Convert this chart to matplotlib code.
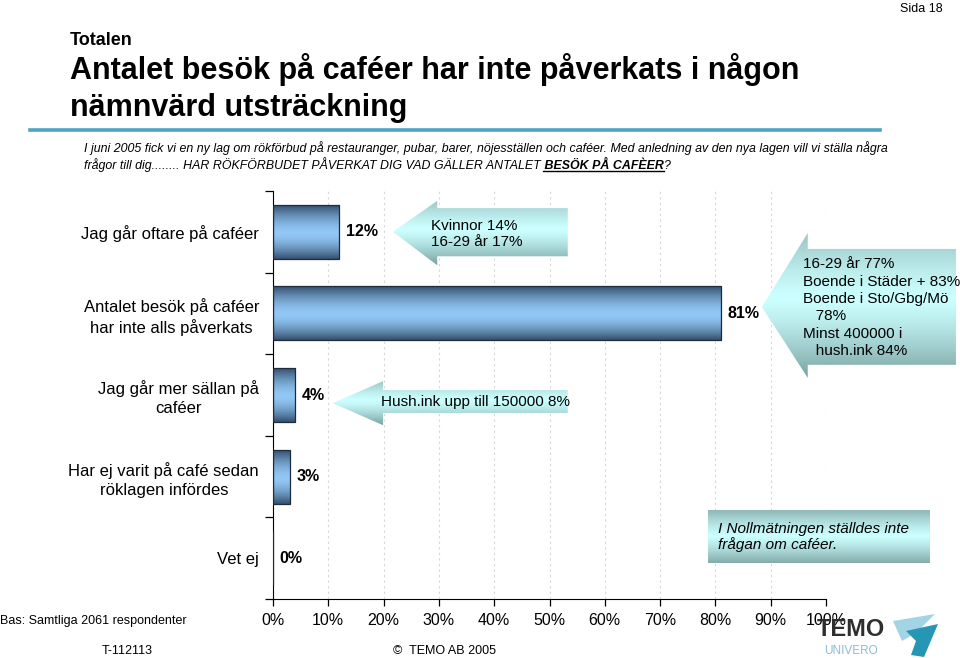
import numpy as np
import matplotlib
matplotlib.use('Agg')
import matplotlib.pyplot as plt
from matplotlib.patches import Polygon
from matplotlib.colors import to_rgb

# data
categories = ['Jag går oftare på caféer',
              'Antalet besök på caféer\nhar inte alls påverkats',
              'Jag går mer sällan på\ncaféer',
              'Har ej varit på café sedan\nröklagen infördes',
              'Vet ej']
values = [12, 81, 4, 3, 0]
xticks = [0, 10, 20, 30, 40, 50, 60, 70, 80, 90, 100]

note_oftare = 'Kvinnor 14%\n16-29 år 17%'
note_alls = ('16-29 år 77%\nBoende i Städer + 83%\nBoende i Sto/Gbg/Mö\n'
             '   78%\nMinst 400000 i\n   hush.ink 84%')
note_sallan = 'Hush.ink upp till 150000 8%'
note_box = 'I Nollmätningen ställdes inte\nfrågan om caféer.'

plt.rcParams['font.family'] = ['Liberation Sans', 'DejaVu Sans']

W, H = 960, 658
fig = plt.figure(figsize=(W / 100, H / 100), dpi=100)
fig.patch.set_facecolor('white')


def vgrad(top, mid, bottom, peak=0.5, power=1.0, n=80):
    t = np.linspace(0, 1, n)
    top, mid, bottom = np.array(to_rgb(top)), np.array(to_rgb(mid)), np.array(to_rgb(bottom))
    out = np.zeros((n, 1, 3))
    for i, v in enumerate(t):
        if v < peak:
            s = ((peak - v) / peak) ** power
            out[i, 0] = mid + (top - mid) * s
        else:
            s = ((v - peak) / (1 - peak)) ** power
            out[i, 0] = mid + (bottom - mid) * s
    return out


# main chart
ax = fig.add_axes([273 / W, (H - 599) / H, 553 / W, 408 / H])
bars = ax.barh(range(len(values)), values, height=0.66, facecolor='none',
               edgecolor='#1e2b3b', linewidth=0.9, zorder=3)
bar_grad = vgrad('#35506f', '#92c8f6', '#35506f', peak=0.52, power=1.6)
for b in bars:
    if b.get_width() <= 0:
        continue
    x, y, w, h = b.get_x(), b.get_y(), b.get_width(), b.get_height()
    im = ax.imshow(bar_grad, extent=(x, x + w, y + h, y), aspect='auto',
                   interpolation='bilinear', zorder=2)
    im.set_clip_path(b)

for i, v in enumerate(values):
    ax.text(v + 1.2, i, f'{v}%', va='center', ha='left', fontsize=11.5,
            fontweight='bold', zorder=5)

ax.set_xlim(0, 100)
ax.set_ylim(len(values) - 0.5, -0.5)
ax.set_xticks(xticks)
ax.set_xticklabels([f'{v}%' for v in xticks], fontsize=11.5)
ax.set_yticks(range(len(categories)))
ax.set_yticklabels(categories, fontsize=12)
for t in ax.get_yticklabels():
    t.set_multialignment('center')
    t.set_linespacing(1.3)
ax.set_yticks(np.arange(-0.5, len(categories), 1), minor=True)
ax.tick_params(axis='y', which='major', length=0, pad=10)
ax.tick_params(axis='y', which='minor', length=6, direction='out', width=0.9)
ax.tick_params(axis='x', length=5, direction='out', width=0.9, pad=5)
ax.spines['top'].set_visible(False)
ax.spines['right'].set_visible(False)
ax.xaxis.grid(True, linestyle=(0, (2, 3)), color='#d6d6d6', linewidth=0.8)
ax.set_axisbelow(True)

# overlay in the same data units as the chart, for the callout arrows
pos = ax.get_position()
ov = fig.add_axes([0, 0, 1, 1])
ov.set_xlim(-pos.x0 / pos.width * 100, 100 + (1 - pos.x1) / pos.width * 100)
ny = len(values)
ov.set_ylim(ny - 0.5 + pos.y0 / pos.height * ny, -0.5 - (1 - pos.y1) / pos.height * ny)
ov.axis('off')

arrow_grad = vgrad('#9cc4c4', '#ccffff', '#7aa2a2', peak=0.45, power=1.3)


def callout(tip_x, tip_y, base_x, right_x, head_top, head_bot, body_top, body_bot):
    pts = [(tip_x, tip_y), (base_x, head_top), (base_x, body_top),
           (right_x, body_top), (right_x, body_bot), (base_x, body_bot),
           (base_x, head_bot)]
    poly = Polygon(pts, closed=True, facecolor='none', edgecolor='none')
    ov.add_patch(poly)
    im = ov.imshow(arrow_grad, extent=(tip_x, right_x, head_bot, head_top),
                   aspect='auto', interpolation='bilinear', zorder=2)
    im.set_clip_path(poly)


callout(21.7, 0.0, 29.7, 53.3, -0.38, 0.41, -0.29, 0.30)
callout(88.4, 0.92, 96.7, 123.5, 0.015, 1.79, 0.21, 1.63)
callout(10.8, 2.10, 19.9, 53.3, 1.83, 2.37, 1.94, 2.22)

ov.text(28.6, 0.03, note_oftare, fontsize=11, va='center', ha='left', zorder=5,
        linespacing=1.18)
ov.text(95.8, 0.93, note_alls, fontsize=11, va='center', ha='left', zorder=5,
        linespacing=1.3)
ov.text(19.5, 2.08, note_sallan, fontsize=11, va='center', ha='left', zorder=5)

box = Polygon([(78.7, 3.41), (118.8, 3.41), (118.8, 4.06), (78.7, 4.06)],
              closed=True, facecolor='none', edgecolor='none')
ov.add_patch(box)
im = ov.imshow(vgrad('#8db5b5', '#ccffff', '#85acac', peak=0.5, power=1.2),
               extent=(78.7, 118.8, 4.06, 3.41), aspect='auto',
               interpolation='bilinear', zorder=2)
im.set_clip_path(box)
ov.text(80.4, 3.74, note_box, fontsize=11, style='italic', va='center',
        ha='left', zorder=5, linespacing=1.13)

# header / footer in pixel units
hd = fig.add_axes([0, 0, 1, 1])
hd.set_xlim(0, W)
hd.set_ylim(H, 0)
hd.axis('off')

hd.text(943, 3, 'Sida 18', ha='right', va='top', fontsize=9)
hd.text(70, 45, 'Totalen', fontsize=13, fontweight='bold', va='baseline')
hd.text(70, 79, 'Antalet besök på caféer har inte påverkats i någon',
        fontsize=22, fontweight='bold', va='baseline')
hd.text(70, 116, 'nämnvärd utsträckning', fontsize=22, fontweight='bold',
        va='baseline')
hd.plot([30, 880], [130, 130], color='#4fa3c4', linewidth=2.6)

sub_kw = dict(fontsize=8.9, style='italic', va='baseline')
hd.text(84, 152, 'I juni 2005 fick vi en ny lag om rökförbud på restauranger, pubar, '
        'barer, nöjesställen och caféer. Med anledning av den nya lagen vill vi '
        'ställa några', **sub_kw)
renderer = fig.canvas.get_renderer()
t1 = hd.text(84, 169, 'frågor till dig........ HAR RÖKFÖRBUDET PÅVERKAT DIG VAD '
             'GÄLLER ANTALET', **sub_kw)
x1 = t1.get_window_extent(renderer).x1
t2 = hd.text(x1, 169, ' BESÖK PÅ CAFÈER', fontsize=8.9, style='italic',
             fontweight='bold', va='baseline')
bb2 = t2.get_window_extent(renderer)
hd.plot([bb2.x0 + 2, bb2.x1], [171, 171], color='black', linewidth=1)
hd.text(bb2.x1, 169, '?', **sub_kw)

hd.text(0, 621, 'Bas: Samtliga 2061 respondenter', fontsize=9, va='center')
hd.text(127, 651, 'T-112113', fontsize=9, va='center', ha='center')
hd.text(393, 651, '©  TEMO AB 2005', fontsize=9, va='center')

# logo
hd.text(851, 629, 'TEMO', fontsize=17, fontweight='bold', color='#2e2e2e',
        ha='center', va='center', zorder=6)
hd.text(851, 651, 'UNIVERO', fontsize=8.5, color='#8cbcd2', ha='center',
        va='center', zorder=6)
hd.add_patch(Polygon([(893, 621), (935, 614), (916, 633), (902, 641)],
                     closed=True, facecolor='#a3d4e6', edgecolor='none', zorder=6))
hd.add_patch(Polygon([(906, 631), (938, 624), (924, 657), (911, 655), (916, 641)],
                     closed=True, facecolor='#2596b3', edgecolor='none', zorder=6))

fig.savefig('out.png', dpi=100, facecolor='white')
